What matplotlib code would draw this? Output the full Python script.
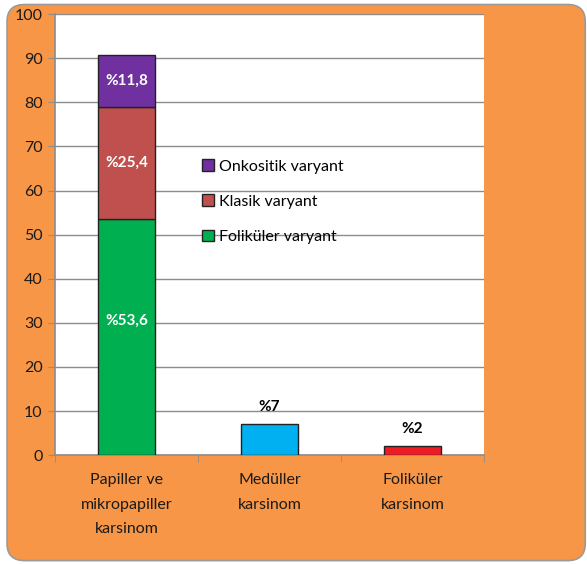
import numpy as np
import matplotlib.pyplot as plt
from matplotlib.patches import FancyBboxPatch

plt.rcParams['font.family'] = ['Lato', 'DejaVu Sans']

categories = ["Papiller ve\nmikropapiller\nkarsinom", "Medüller\nkarsinom", "Foliküler\nkarsinom"]
foliculer_var = [53.6, 0, 0]
klasik_var = [25.4, 0, 0]
onkositik_var = [11.8, 0, 0]
single_vals = [0, 7, 2]
single_colors = ["#00B0F0", "#ED1C24"]

orange = "#F79646"

fig = plt.figure(figsize=(5.87, 5.64), dpi=100, facecolor="white")
bg = FancyBboxPatch((0.012, 0.006), 0.985, 0.986, boxstyle="round,pad=0,rounding_size=0.03",
                    transform=fig.transFigure, facecolor=orange, edgecolor="#9a9a9a",
                    linewidth=1.2, zorder=-5)
fig.add_artist(bg)

ax = fig.add_axes([0.0937, 0.193, 0.731, 0.782])
ax.set_facecolor("white")

x = np.arange(len(categories))
w = 0.4
ec = "#222222"
b1 = ax.bar(x[0], foliculer_var[0], w, color="#00B050", edgecolor=ec, linewidth=1, zorder=3, label="Foliküler varyant")
b2 = ax.bar(x[0], klasik_var[0], w, bottom=foliculer_var[0], color="#C0504D", edgecolor=ec, linewidth=1, zorder=3, label="Klasik varyant")
b3 = ax.bar(x[0], onkositik_var[0], w, bottom=foliculer_var[0] + klasik_var[0], color="#7030A0", edgecolor=ec, linewidth=1, zorder=3, label="Onkositik varyant")
ax.bar(x[1:], single_vals[1:], w, color=single_colors, edgecolor=ec, linewidth=1, zorder=3)

# labels inside stacked bar
ax.text(x[0], foliculer_var[0] * 0.57, "%53,6", color="white", ha="center", va="center", fontsize=11, fontweight="bold", zorder=4)
ax.text(x[0], foliculer_var[0] + klasik_var[0] / 2, "%25,4", color="white", ha="center", va="center", fontsize=11, fontweight="bold", zorder=4)
ax.text(x[0], foliculer_var[0] + klasik_var[0] + onkositik_var[0] / 2, "%11,8", color="white", ha="center", va="center", fontsize=11, fontweight="bold", zorder=4)
for xi, v in zip(x[1:], single_vals[1:]):
    ax.text(xi, v + 2.3, "%" + str(v), color="black", ha="center", va="bottom", fontsize=11, fontweight="bold", zorder=4)

ax.set_xlim(-0.5, 2.5)
ax.set_ylim(0, 100)
ax.set_yticks(np.arange(0, 101, 10))
ax.yaxis.grid(True, color="#8c8c8c", linewidth=1, zorder=1)
ax.set_axisbelow(True)
ax.set_xticks(x)
ax.set_xticklabels(categories, fontsize=11.5, color="#1a1a1a", linespacing=1.95)
ax.set_xticks([-0.5, 0.5, 1.5, 2.5], minor=True)
ax.tick_params(axis="x", which="major", length=0, pad=13)
ax.tick_params(axis="x", which="minor", length=5, color="#8c8c8c", direction="out")
ax.tick_params(axis="y", length=5, color="#8c8c8c", labelsize=11.5, labelcolor="#1a1a1a", pad=4)
for s in ["top", "right"]:
    ax.spines[s].set_visible(False)
ax.spines["left"].set_color("#8c8c8c")
ax.spines["bottom"].set_color("#8c8c8c")
ax.spines["left"].set_linewidth(1.2)
ax.spines["bottom"].set_linewidth(1.2)

ax.legend(handles=[b3, b2, b1], loc="upper left", bbox_to_anchor=(0.33, 0.732), bbox_transform=fig.transFigure,
          frameon=False, fontsize=11.5, handlelength=0.75, handleheight=0.75, handletextpad=0.35,
          labelspacing=1.3, borderpad=0)

fig.savefig("out.png", dpi=100, facecolor="white")
